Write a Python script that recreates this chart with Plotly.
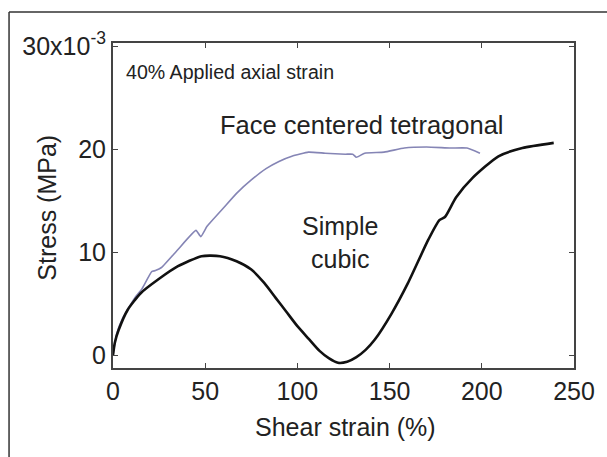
import plotly.graph_objects as go

# Simple cubic (black)
sc_x = [0, 1, 3, 8, 15, 25, 35, 48, 58, 67, 75, 82, 88, 94, 100, 106, 112, 117, 122, 127, 132, 137, 142, 151, 160, 171, 177, 180, 186, 195, 209, 222, 239]
sc_y = [0, 1.2, 2.4, 4.4, 6.0, 7.4, 8.6, 9.6, 9.6, 9.1, 8.3, 7.0, 5.6, 4.2, 2.8, 1.6, 0.4, -0.3, -0.75, -0.65, -0.2, 0.5, 1.5, 4.0, 7.0, 11.2, 13.1, 13.4, 15.3, 17.2, 19.3, 20.1, 20.6]

# Face centered tetragonal (blue-gray)
fct_x = [0, 2, 5, 8.5, 12, 15.6, 21, 23, 26.3, 35, 45, 47.6, 51, 60, 67, 75, 83, 90, 97, 106, 115, 126, 130, 132, 136.5, 147, 158, 170, 183, 192, 199]
fct_y = [0, 2.1, 3.5, 4.6, 5.6, 6.4, 8.1, 8.2, 8.5, 10.2, 12.1, 11.5, 12.5, 14.3, 15.7, 17, 18.1, 18.8, 19.3, 19.7, 19.6, 19.5, 19.5, 19.2, 19.6, 19.7, 20.1, 20.2, 20.1, 20.1, 19.6]

x_ticks = [0, 50, 100, 150, 200, 250]
y_ticks = [0, 10, 20, 30]
y_ticktext = ["0", "10", "20", "30x10<sup>-3</sup>"]

FONT = "Liberation Sans, Arial, sans-serif"
TXT = "#222222"
AX = "#444444"

fig = go.Figure()
fig.add_trace(go.Scatter(x=fct_x, y=fct_y, mode="lines",
                         line=dict(color="#8585b5", width=1.6, shape="spline", smoothing=0.4),
                         showlegend=False))
fig.add_trace(go.Scatter(x=sc_x, y=sc_y, mode="lines",
                         line=dict(color="#111111", width=2.6, shape="spline", smoothing=0.6),
                         showlegend=False))

frame = dict(color="#333333", width=1.5)
fig.update_layout(
    width=607, height=457,
    margin=dict(l=113, r=24, t=43, b=89),
    paper_bgcolor="white", plot_bgcolor="white",
    font=dict(family=FONT, color=TXT),
    xaxis=dict(range=[0, 250], tickvals=x_ticks, ticks="inside", ticklen=5,
               tickcolor=AX, showline=True, linecolor=AX, linewidth=2, mirror="ticks",
               showgrid=False, zeroline=False, tickfont=dict(size=25, color=TXT)),
    yaxis=dict(range=[-1.26, 30.3], tickvals=y_ticks, ticktext=y_ticktext,
               ticks="inside", ticklen=5, tickcolor=AX, showline=True, linecolor=AX,
               linewidth=2, mirror="ticks", showgrid=False, zeroline=False,
               tickfont=dict(size=25, color=TXT)),
    shapes=[
        dict(type="line", xref="paper", yref="paper", x0=-0.2255, x1=-0.2255,
             y0=-0.3, y1=1.0954, line=frame),
        dict(type="line", xref="paper", yref="paper", x0=-0.2255, x1=1.1,
             y0=1.0954, y1=1.0954, line=frame),
    ],
    annotations=[
        dict(text="40% Applied axial strain", x=6.2, y=27.5, xref="x", yref="y",
             xanchor="left", yanchor="middle", showarrow=False, font=dict(size=19.6, color=TXT)),
        dict(text="Face centered tetragonal", x=57.2, y=22.3, xref="x", yref="y",
             xanchor="left", yanchor="middle", showarrow=False, font=dict(size=25.5, color=TXT)),
        dict(text="Simple<br>cubic", x=123, y=10.9, xref="x", yref="y",
             xanchor="center", yanchor="middle", showarrow=False, align="center",
             font=dict(size=25, color=TXT)),
        dict(text="Shear strain (%)", x=0.504, y=-0.1815, xref="paper", yref="paper",
             xanchor="center", yanchor="middle", showarrow=False, font=dict(size=25, color=TXT)),
        dict(text="Stress (MPa)", x=-0.1426, y=0.494, xref="paper", yref="paper",
             xanchor="center", yanchor="middle", textangle=-90, showarrow=False,
             font=dict(size=25, color=TXT)),
    ],
)

fig.write_html("out.html")
